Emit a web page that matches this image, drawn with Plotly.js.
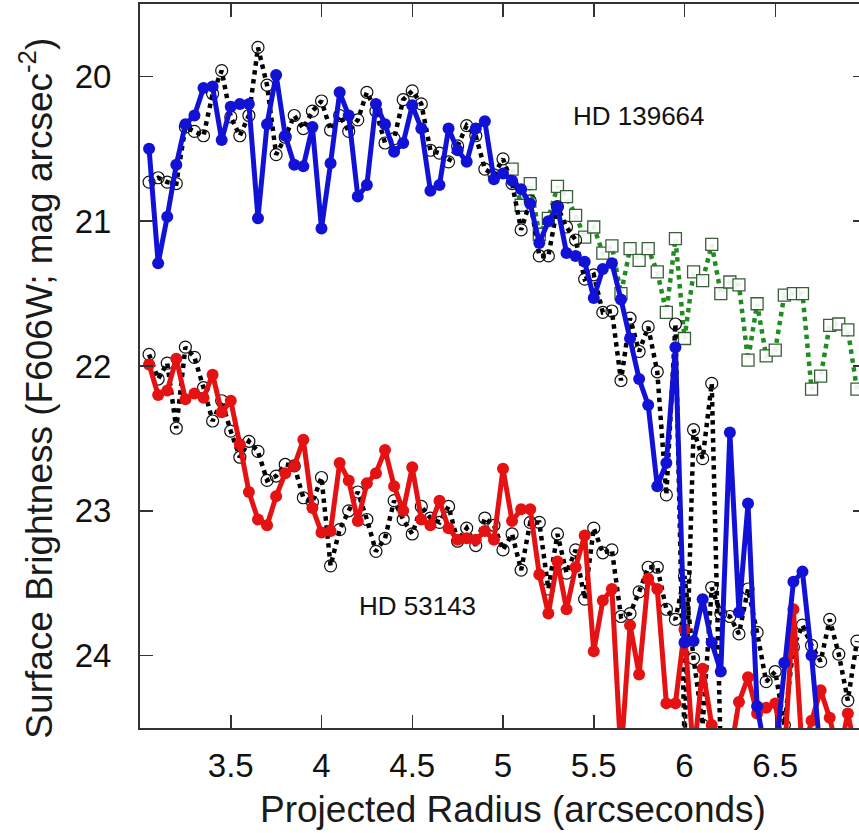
<!DOCTYPE html>
<html>
<head>
<meta charset="utf-8">
<script src="https://cdn.plot.ly/plotly-3.0.1.min.js"></script>
<style>
html,body{margin:0;padding:0;overflow:hidden;background:#fff;}
#chart{width:866px;height:833px;}
</style>
</head>
<body>
<div id="chart"></div>
<script>
// Projected radius (arcseconds)
const radius = [3.05,3.10,3.15,3.20,3.25,3.30,3.35,3.40,3.45,3.50,3.55,3.60,3.65,3.70,3.75,3.80,3.85,3.90,3.95,4.00,
4.05,4.10,4.15,4.20,4.25,4.30,4.35,4.40,4.45,4.50,4.55,4.60,4.65,4.70,4.75,4.80,4.85,4.90,4.95,5.00,
5.05,5.10,5.15,5.20,5.25,5.30,5.35,5.40,5.45,5.50,5.55,5.60,5.65,5.70,5.75,5.80,5.85,5.90,5.95,6.00,
6.05,6.10,6.15,6.20,6.25,6.30,6.35,6.40,6.45,6.50,6.55,6.60,6.65,6.70,6.75,6.80,6.85,6.90,6.95];

// HD 139664 observed (blue)
const hd139664 = [20.50,21.29,20.97,20.61,20.33,20.27,20.08,20.07,20.44,20.21,20.19,20.19,20.98,20.33,19.99,20.41,20.61,20.62,20.35,21.05,
20.60,20.11,20.27,20.83,20.75,20.19,20.33,20.52,20.46,20.20,20.36,20.79,20.75,20.36,20.51,20.59,20.36,20.31,20.71,20.67,
20.72,20.78,20.88,21.15,21.00,20.90,21.22,21.24,21.28,21.53,21.33,21.29,21.54,21.81,22.09,22.27,22.83,22.67,21.87,23.91,
23.90,23.61,23.91,24.11,22.46,23.70,22.95,24.35,24.70,24.70,24.05,23.49,23.42,24.00,24.70,null,null,null,null];

// HD 139664 comparison (black dotted, open circles)
const hd139664ref = [20.73,20.70,20.73,20.74,20.35,20.38,20.41,20.12,19.96,20.28,20.41,20.27,19.80,20.06,20.54,20.42,20.27,20.36,20.24,20.17,
20.37,20.27,20.38,20.30,20.11,20.24,20.46,20.43,20.16,20.10,20.19,20.51,20.53,20.59,20.48,20.34,20.41,20.64,20.68,20.57,
20.74,21.06,20.86,21.24,21.24,20.90,21.04,21.13,21.40,21.37,21.63,21.62,22.10,21.67,21.90,21.73,22.04,22.89,21.71,24.60,
22.44,22.64,22.12,24.70,null,null,null,null,null,null,null,null,null,null,null,null,null,null,null];

// HD 139664 outer profile (green dotted, open squares)
const hd139664outer = [null,null,null,null,null,null,null,null,null,null,null,null,null,null,null,null,null,null,null,null,
null,null,null,null,null,null,null,null,null,null,null,null,null,null,null,null,null,null,null,null,
20.64,20.89,20.74,21.09,20.98,20.76,20.83,20.96,21.11,21.04,21.22,21.17,21.50,21.19,21.27,21.19,21.35,21.63,21.12,21.81,
21.35,21.41,21.16,21.50,21.42,21.44,21.96,21.57,21.93,21.89,21.51,21.50,21.50,22.16,22.07,21.72,21.71,21.75,22.16];

// HD 53143 observed (red)
const hd53143 = [21.99,22.20,22.17,21.95,22.23,22.19,22.22,22.06,22.32,22.24,22.54,22.87,23.06,23.10,22.90,22.74,22.69,22.51,22.98,23.15,
23.14,22.67,22.79,23.07,22.81,22.74,22.58,22.83,23.00,22.70,23.06,23.10,22.93,23.12,23.20,23.19,23.20,23.14,23.20,22.71,
23.07,22.99,22.99,23.44,23.71,23.35,23.68,23.39,23.17,23.97,23.62,23.54,24.70,23.79,24.13,23.47,23.54,24.33,24.33,23.82,
24.70,24.09,24.48,24.70,24.70,24.32,24.15,24.40,24.36,24.33,24.70,23.68,24.70,24.45,24.24,24.43,24.70,24.40,24.70];

// HD 53143 comparison (black dotted, open circles)
const hd53143ref = [21.92,22.09,21.98,22.43,21.87,21.94,22.15,22.38,22.24,22.45,22.63,22.52,22.59,22.79,22.76,22.68,22.69,22.91,22.94,22.77,
23.38,23.13,23.00,22.87,23.06,23.28,23.19,22.93,23.06,23.16,22.97,23.05,23.08,22.97,23.21,23.12,23.24,23.05,23.10,23.27,
23.16,23.41,23.08,23.08,23.54,23.16,23.43,23.27,23.61,23.12,23.29,23.27,23.73,23.71,23.56,23.39,23.39,23.68,23.75,23.45,
24.02,24.48,23.53,23.71,23.73,23.85,23.54,23.84,24.18,24.11,24.48,23.94,23.79,23.93,24.04,23.75,23.99,24.31,23.90];

const xTicks = [3.5,4,4.5,5,5.5,6,6.5];
const yTicks = [20,21,22,23,24];

const xTitle = 'Projected Radius (arcseconds)';
const yTitle = 'Surface Brightness (F606W; mag arcsec<sup>-2</sup>)';
const labels = ['HD 139664', 'HD 53143'];

const FONT = 'Liberation Sans, Arial, Helvetica, sans-serif';
const BLUE = 'rgb(18,18,215)';
const RED = 'rgb(228,18,18)';
const GREEN = 'rgb(30,140,30)';

const dotted = (y, col) => ({
  x: radius, y: y, type: 'scatter', mode: 'lines+markers',
  line: {color: col, width: 4.5, dash: 'dot'},
  marker: {symbol: 'circle-open', size: 12, color: '#111', line: {width: 1.2}},
  connectgaps: false, hoverinfo: 'skip', showlegend: false
});

const traces = [
  {
    x: radius, y: hd139664outer, type: 'scatter', mode: 'lines+markers',
    line: {color: GREEN, width: 4.5, dash: 'dot'},
    marker: {symbol: 'square', size: 12, color: 'rgba(255,255,255,0.9)', line: {color: '#3a5e3a', width: 1.3}},
    connectgaps: false, showlegend: false
  },
  dotted(hd53143ref, '#000'),
  dotted(hd139664ref, '#000'),
  {
    x: radius, y: hd53143, type: 'scatter', mode: 'lines+markers',
    line: {color: RED, width: 5},
    marker: {symbol: 'circle', size: 12, color: RED},
    connectgaps: false, showlegend: false
  },
  {
    x: radius, y: hd139664, type: 'scatter', mode: 'lines+markers',
    line: {color: BLUE, width: 5},
    marker: {symbol: 'circle', size: 12, color: BLUE},
    connectgaps: false, showlegend: false
  }
];

const layout = {
  width: 866, height: 833,
  margin: {l: 140, r: 0, t: 4, b: 105},
  paper_bgcolor: '#fff', plot_bgcolor: '#fff',
  font: {family: FONT, color: '#111'},
  showlegend: false,
  xaxis: {
    range: [3.0, 7.0], tickvals: xTicks, ticktext: xTicks.map(String),
    ticks: 'inside', ticklen: 13, tickwidth: 1.5, tickcolor: '#333',
    showline: true, linecolor: '#333', linewidth: 2, mirror: 'ticks',
    showgrid: false, zeroline: false,
    tickfont: {size: 33, family: FONT, color: '#111'},
    ticklabelstandoff: 7
  },
  yaxis: {
    range: [24.5, 19.5], tickvals: yTicks, ticktext: yTicks.map(String),
    ticks: 'inside', ticklen: 13, tickwidth: 1.5, tickcolor: '#333',
    showline: true, linecolor: '#333', linewidth: 2, mirror: 'ticks',
    showgrid: false, zeroline: false,
    tickfont: {size: 33, family: FONT, color: '#111'},
    ticklabelstandoff: 20
  },
  annotations: [
    {x: 5.75, y: 20.27, xref: 'x', yref: 'y', text: labels[0], showarrow: false, font: {size: 26, family: FONT, color: '#111'}},
    {x: 4.53, y: 23.66, xref: 'x', yref: 'y', text: labels[1], showarrow: false, font: {size: 26, family: FONT, color: '#111'}},
    {x: 0.5138, y: -0.113, xref: 'paper', yref: 'paper', xanchor: 'center', yanchor: 'middle',
     text: xTitle, showarrow: false, font: {size: 37, family: FONT, color: '#1a1a1a'}},
    {x: -0.142, y: 0.47, xref: 'paper', yref: 'paper', xanchor: 'center', yanchor: 'middle', textangle: -90,
     text: yTitle, showarrow: false, font: {size: 37, family: FONT, color: '#1a1a1a'}}
  ]
};

Plotly.newPlot('chart', traces, layout, {staticPlot: true, displayModeBar: false});
</script>
</body>
</html>
